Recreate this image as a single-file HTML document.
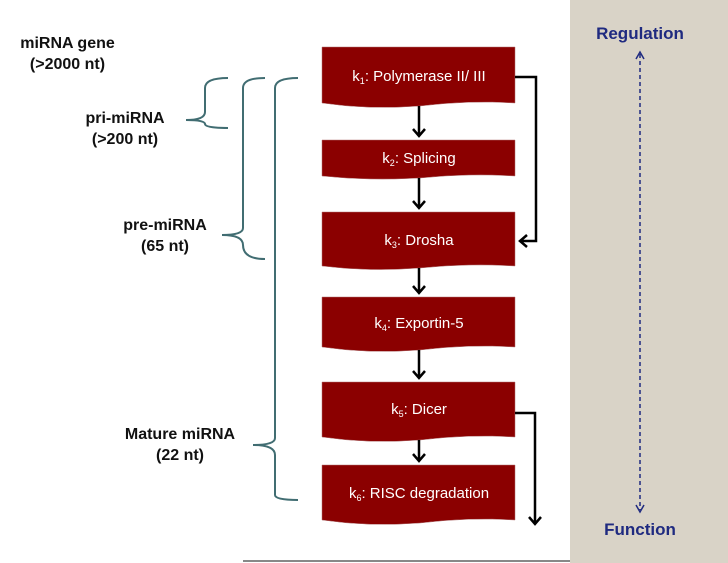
<!DOCTYPE html>
<html><head><style>
body{margin:0;width:728px;height:563px;background:#fff;position:relative;overflow:hidden;font-family:"Liberation Sans",Arial,sans-serif}
.t{position:absolute;font-weight:bold;font-size:16px;text-align:center;color:#111;line-height:21px}
.bx{font-family:"Liberation Sans",sans-serif;fill:#fff;font-size:15px}
</style></head><body>
<div style="position:absolute;left:570px;top:0;width:158px;height:563px;background:#d9d3c7"></div>
<div style="position:absolute;left:243px;top:560px;width:327px;height:2px;background:#888"></div>
<div class="t" style="left:0;top:33px;width:135px">miRNA gene<br>(&gt;2000 nt)</div>
<div class="t" style="left:65px;top:108px;width:120px">pri-miRNA<br>(&gt;200 nt)</div>
<div class="t" style="left:105px;top:215px;width:120px">pre-miRNA<br>(65 nt)</div>
<div class="t" style="left:108px;top:424px;width:144px">Mature miRNA<br>(22 nt)</div>
<div class="t" style="left:570px;top:23px;width:140px;color:#1f2a80;font-size:17px">Regulation</div>
<div class="t" style="left:570px;top:519px;width:140px;color:#1f2a80;font-size:17px">Function</div>
<svg width="728" height="563" style="position:absolute;left:0;top:0">
<g fill="none" stroke="#416d72" stroke-width="2">
<path d="M228,78 Q205,78 205,88 L205,112 Q205,120 186,120 Q205,120 205,124 Q205,128 228,128"/>
<path d="M265,78 Q243,78 243,88 L243,228 Q243,235 222,235 Q243,235 243,245 Q243,259 265,259"/>
<path d="M298,78 Q275,78 275,88 L275,438 Q275,445 253,445 Q275,445 275,455 L275,495 Q275,500 298,500"/>
</g>
<g fill="#8b0000" stroke="#b07070" stroke-width="0.5">
<path d="M322,47 H515 V103 Q470,100 420,106 Q370,110 322,103 Z"/>
<path d="M322,140 H515 V176 Q470,173 420,178 Q370,181 322,176 Z"/>
<path d="M322,212 H515 V266 Q470,263 420,268 Q370,272 322,266 Z"/>
<path d="M322,297 H515 V347 Q470,344 420,350 Q370,354 322,347 Z"/>
<path d="M322,382 H515 V437 Q470,434 420,440 Q370,444 322,437 Z"/>
<path d="M322,465 H515 V520 Q470,517 420,523 Q370,527 322,520 Z"/>
</g>
<g fill="none" stroke="#000" stroke-width="2.5">
<path d="M419,106 V136 M413,129 L419,136 L425,129"/>
<path d="M419,178 V208 M413,201 L419,208 L425,201"/>
<path d="M419,268 V293 M413,286 L419,293 L425,286"/>
<path d="M419,350 V378 M413,371 L419,378 L425,371"/>
<path d="M419,440 V461 M413,454 L419,461 L425,454"/>
<path d="M515,77 H536 V241 H520 M527,235 L520,241 L527,247"/>
<path d="M515,413 H535 V524 M529,517 L535,524 L541,517"/>
</g>
<path d="M640,54 V510" stroke="#1f2a80" stroke-width="1.5" stroke-dasharray="4,3" fill="none"/>
<path d="M636,59 L640,52 L644,59 M636,505 L640,512 L644,505" stroke="#1f2a80" stroke-width="1.5" fill="none"/>
<text class="bx" x="419" y="81" text-anchor="middle">k<tspan font-size="9" dy="3">1</tspan><tspan dy="-3">: Polymerase II/ III</tspan></text>
<text class="bx" x="419" y="163" text-anchor="middle">k<tspan font-size="9" dy="3">2</tspan><tspan dy="-3">: Splicing</tspan></text>
<text class="bx" x="419" y="245" text-anchor="middle">k<tspan font-size="9" dy="3">3</tspan><tspan dy="-3">: Drosha</tspan></text>
<text class="bx" x="419" y="328" text-anchor="middle">k<tspan font-size="9" dy="3">4</tspan><tspan dy="-3">: Exportin-5</tspan></text>
<text class="bx" x="419" y="414" text-anchor="middle">k<tspan font-size="9" dy="3">5</tspan><tspan dy="-3">: Dicer</tspan></text>
<text class="bx" x="419" y="498" text-anchor="middle">k<tspan font-size="9" dy="3">6</tspan><tspan dy="-3">: RISC degradation</tspan></text>
</svg>
</body></html>
